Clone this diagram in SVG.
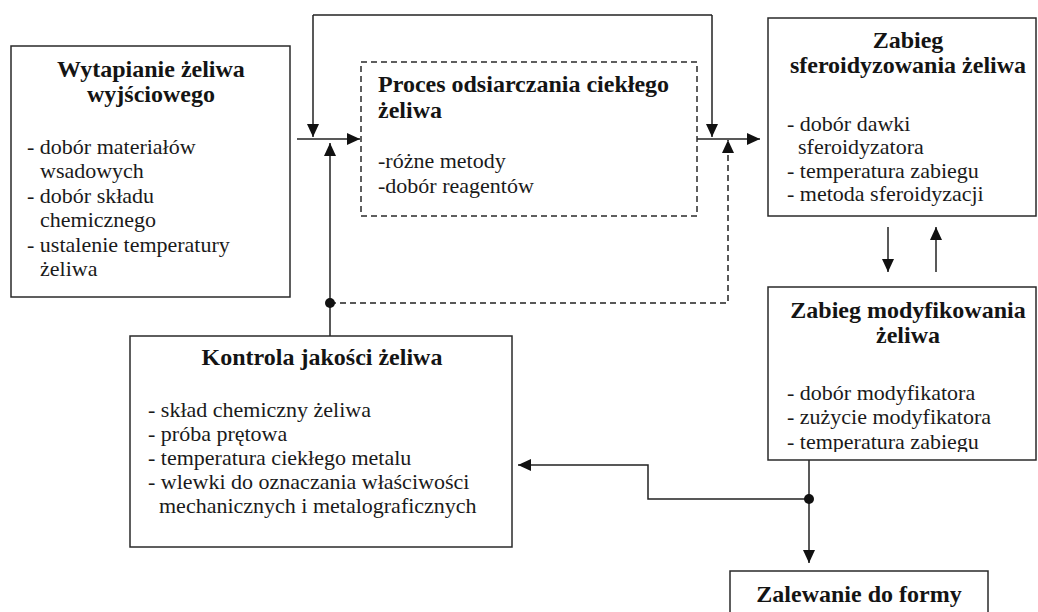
<svg xmlns="http://www.w3.org/2000/svg" width="1038" height="612" viewBox="0 0 1038 612">
<style>
.box{fill:#fff;stroke:#2a2a2a;stroke-width:1.5}
.dbox{fill:#fff;stroke:#2a2a2a;stroke-width:1.5;stroke-dasharray:6 4}
.t{font-weight:bold;font-size:24px;fill:#141414}
.b{font-size:22px;fill:#1a1a1a}
.c{text-anchor:middle}
.ln{fill:none;stroke:#222;stroke-width:1.5}
.dl{fill:none;stroke:#222;stroke-width:1.5;stroke-dasharray:6 4}
.dot{fill:#111}
</style>
<defs>
<marker id="ah" markerWidth="13" markerHeight="12" refX="13" refY="6" orient="auto" markerUnits="userSpaceOnUse">
<path d="M0,0 L13,6 L0,12 Z" fill="#111"/>
</marker>
<clipPath id="clipMod"><rect x="768" y="287" width="270" height="165"/></clipPath>
</defs>
<rect width="1038" height="612" fill="#fff"/>

<g id="connectors">
<path class="ln" d="M297,139 H360" marker-end="url(#ah)"/>
<path class="ln" d="M313,15 H712"/>
<path class="ln" d="M313,15 V137" marker-end="url(#ah)"/>
<path class="ln" d="M712,15 V137" marker-end="url(#ah)"/>
<path class="ln" d="M330,336 V143" marker-end="url(#ah)"/>
<path class="dl" d="M330,303 H728 V140" marker-end="url(#ah)"/>
<circle class="dot" cx="330" cy="303" r="5"/>
<path class="ln" d="M697,139 H760" marker-end="url(#ah)"/>
<path class="ln" d="M888,227 V272" marker-end="url(#ah)"/>
<path class="ln" d="M936,272 V227" marker-end="url(#ah)"/>
<path class="ln" d="M809,460 V563" marker-end="url(#ah)"/>
<path class="ln" d="M809,499 H648 V465 H518" marker-end="url(#ah)"/>
<circle class="dot" cx="809" cy="499" r="5"/>
</g>

<g font-family="Liberation Serif, serif">
<g id="wytapianie">
<rect class="box" x="11" y="46" width="279" height="251"/>
<text class="t c" x="151" y="77">Wytapianie żeliwa</text>
<text class="t c" x="151" y="102">wyjściowego</text>
<text class="b" x="27" y="154">- dobór materiałów</text>
<text class="b" x="40" y="178">wsadowych</text>
<text class="b" x="27" y="203">- dobór składu</text>
<text class="b" x="40" y="227">chemicznego</text>
<text class="b" x="27" y="252">- ustalenie temperatury</text>
<text class="b" x="40" y="276">żeliwa</text>
</g>

<g id="odsiarczanie">
<rect class="dbox" x="361" y="62" width="336" height="154"/>
<text class="t" x="378" y="92">Proces odsiarczania ciekłego</text>
<text class="t" x="378" y="118">żeliwa</text>
<text class="b" x="378" y="168">-różne metody</text>
<text class="b" x="378" y="193">-dobór reagentów</text>
</g>

<g id="sferoidyzowanie">
<rect class="box" x="768" y="18" width="268" height="198"/>
<text class="t c" x="908" y="48">Zabieg</text>
<text class="t c" x="908" y="73">sferoidyzowania żeliwa</text>
<text class="b" x="787" y="131">- dobór dawki</text>
<text class="b" x="798" y="154">sferoidyzatora</text>
<text class="b" x="787" y="178">- temperatura zabiegu</text>
<text class="b" x="787" y="201">- metoda sferoidyzacji</text>
</g>

<g id="modyfikowanie">
<rect class="box" x="768" y="287" width="268" height="173"/>
<text class="t c" x="908" y="318">Zabieg modyfikowania</text>
<text class="t c" x="908" y="343">żeliwa</text>
<g clip-path="url(#clipMod)">
<text class="b" x="787" y="400">- dobór modyfikatora</text>
<text class="b" x="787" y="424">- zużycie modyfikatora</text>
<text class="b" x="787" y="449">- temperatura zabiegu</text>
</g>
</g>

<g id="kontrola">
<rect class="box" x="130" y="336" width="382" height="211"/>
<text class="t c" x="322" y="365">Kontrola jakości żeliwa</text>
<text class="b" x="148" y="417">- skład chemiczny żeliwa</text>
<text class="b" x="148" y="441">- próba prętowa</text>
<text class="b" x="148" y="465">- temperatura ciekłego metalu</text>
<text class="b" x="148" y="489">- wlewki do oznaczania właściwości</text>
<text class="b" x="159" y="513">mechanicznych i metalograficznych</text>
</g>

<g id="zalewanie">
<rect class="box" x="730" y="571" width="258" height="60"/>
<text class="t c" x="859" y="602">Zalewanie do formy</text>
</g>
</g>
</svg>
